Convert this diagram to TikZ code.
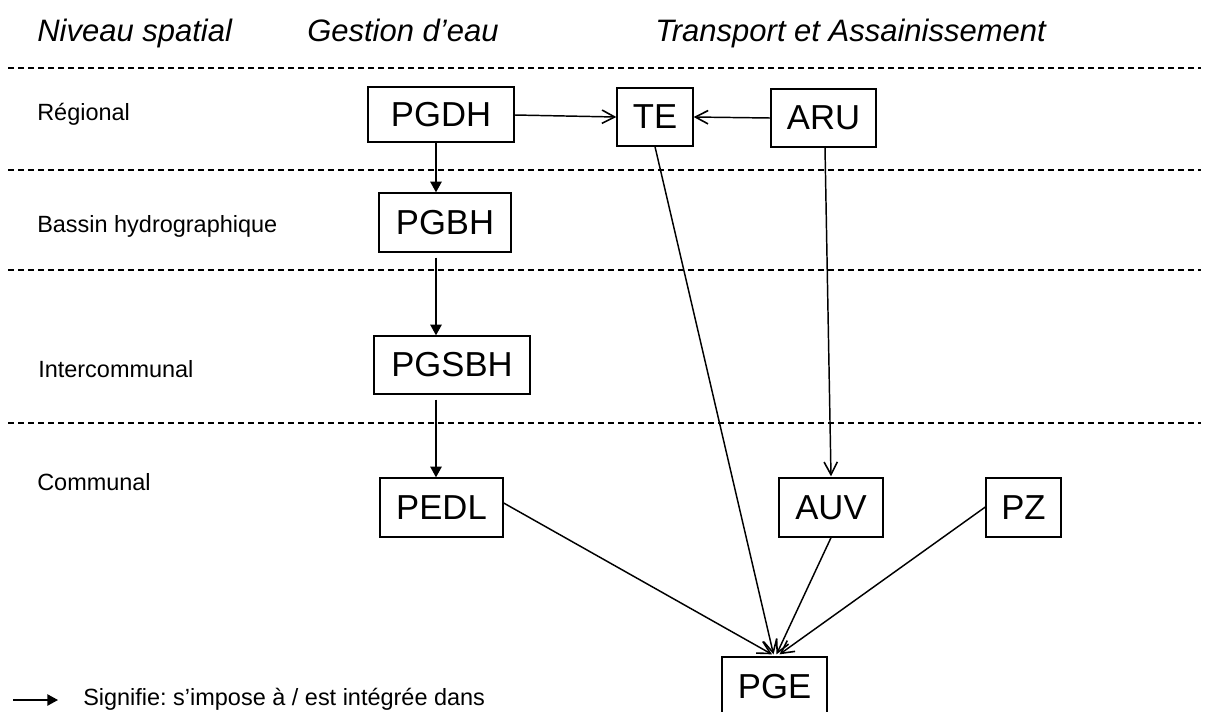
\documentclass[tikz,border=0pt]{standalone}
\usepackage{fontspec}
\setmainfont{Liberation Sans}
\usetikzlibrary{arrows.meta,calc}
\frenchspacing
\tikzset{
  box/.style={draw,line width=1pt,inner sep=0pt,font=\fontsize{26}{30}\selectfont},
  rowlabel/.style={anchor=base west,inner sep=0pt,font=\fontsize{17.6}{21}\selectfont},
  headlabel/.style={anchor=base west,inner sep=0pt,font=\fontsize{23.25}{28}\selectfont\itshape},
  sep/.style={line width=0.9pt,dash pattern=on 4.5pt off 3pt},
  tri/.style={line width=1.1pt,-{Triangle[length=8pt,width=8.5pt]}},
  barb/.style={line width=1.1pt,-{Straight Barb[length=9.5pt,width=10pt,line width=1.2pt]}}
}
\begin{document}
\begin{tikzpicture}[x=0.75pt,y=-0.75pt]
\clip (0,0) rectangle (1209,711);
\fill[white] (0,0) rectangle (1209,711);

% headers
\node[headlabel] (h1) at (37,41) {Niveau spatial};
\node[headlabel] (h2) at (307,41) {Gestion d’eau};
\node[headlabel] (h3) at (655,41) {Transport et Assainissement};

% separators
\draw[sep] (8,68) -- (1201,68);
\draw[sep] (8,170) -- (1201,170);
\draw[sep] (8,270) -- (1201,270);
\draw[sep] (8,423) -- (1201,423);

% row labels
\node[rowlabel] (r1) at (37,120) {Régional};
\node[rowlabel] (r2) at (37,232) {Bassin hydrographique};
\node[rowlabel] (r3) at (38,377) {Intercommunal};
\node[rowlabel] (r4) at (37,490) {Communal};

% boxes
\node[box,minimum width=146*0.75pt,minimum height=55*0.75pt] (PGDH) at (441,114.5) {PGDH};
\node[box,minimum width=76*0.75pt,minimum height=58*0.75pt] (TE) at (655,117) {TE};
\node[box,minimum width=105*0.75pt,minimum height=58*0.75pt] (ARU) at (823.5,118) {ARU};
\node[box,minimum width=132*0.75pt,minimum height=59*0.75pt] (PGBH) at (445,222.5) {PGBH};
\node[box,minimum width=156*0.75pt,minimum height=58*0.75pt] (PGSBH) at (452,365) {PGSBH};
\node[box,minimum width=123*0.75pt,minimum height=59*0.75pt] (PEDL) at (441.5,507.5) {PEDL};
\node[box,minimum width=104*0.75pt,minimum height=59*0.75pt] (AUV) at (831,507.5) {AUV};
\node[box,minimum width=75*0.75pt,minimum height=59*0.75pt] (PZ) at (1023.5,507.5) {PZ};
\node[box,minimum width=105*0.75pt,minimum height=59*0.75pt] (PGE) at (774.5,686.5) {PGE};

% water management chain
\draw[tri] (PGDH.south -| 436,0) -- (PGBH.north -| 436,0);
\draw[tri] ($(PGBH.south -| 436,0)+(0,5)$) -- (PGSBH.north -| 436,0);
\draw[tri] ($(PGSBH.south -| 436,0)+(0,5)$) -- (PEDL.north -| 436,0);

% regional links
\draw[barb] ($(PGDH.east)+(0,0.5)$) -- (TE.west);
\draw[barb] (ARU.west) -- (TE.east);
\draw[barb] ($(ARU.south)+(1.5,0)$) -- ($(AUV.north)+(0,-1)$);

% links into PGE
\draw[barb] (TE.south) -- ($(PGE.north)+(-1,-2)$);
\draw[barb] ($(PEDL.east)+(0,-4.5)$) -- ($(PGE.north)+(-2.5,-2)$);
\draw[barb] (AUV.south) -- ($(PGE.north)+(2,-2)$);
\draw[barb] ($(PZ.west)+(0,-0.5)$) -- ($(PGE.north)+(5,-2)$);

% legend
\coordinate (la) at (13,700);
\coordinate (lb) at (58,700);
\draw[tri] (la) -- (lb);
\node[rowlabel] (leg) at (83,705.5) {Signifie: s’impose à / est intégrée dans};
\end{tikzpicture}
\end{document}
